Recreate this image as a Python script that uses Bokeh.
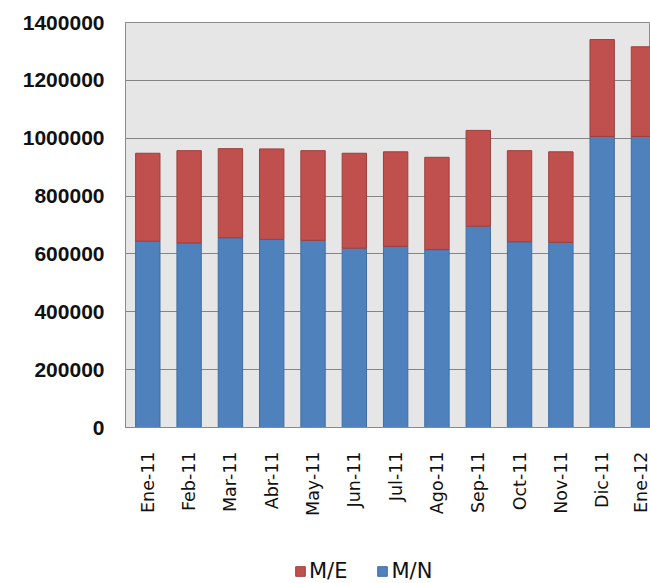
from math import pi
from bokeh.plotting import figure
from bokeh.layouts import column
from bokeh.models import (ColumnDataSource, Range1d, FixedTicker, NumeralTickFormatter,
                          Legend, LegendItem)
from bokeh.embed import file_html
from bokeh.resources import INLINE

# ---- data ----
months = ["Ene-11", "Feb-11", "Mar-11", "Abr-11", "May-11", "Jun-11", "Jul-11",
          "Ago-11", "Sep-11", "Oct-11", "Nov-11", "Dic-11", "Ene-12"]
mn_values = [644000, 638000, 656000, 650000, 647000, 620000, 626000,
             615000, 696000, 642000, 640000, 1006000, 1006000]
me_values = [304000, 319000, 308000, 313000, 310000, 328000, 327000,
             319000, 331000, 315000, 313000, 335000, 310000]
y_ticks = [0, 200000, 400000, 600000, 800000, 1000000, 1200000, 1400000]
series_labels = ["M/E", "M/N"]

positions = list(range(len(months)))
source = ColumnDataSource(dict(x=positions, mn=mn_values, me=me_values))

RED = "#C0504D"
BLUE = "#4F81BD"
RED_EDGE = "#9E3F3C"
BLUE_EDGE = "#3F6EA3"

p = figure(width=650, height=557, output_backend="svg", toolbar_location=None,
           x_range=Range1d(-0.54, 12.17), y_range=Range1d(0, 1400000),
           min_border_left=125, min_border_right=0, min_border_top=22,
           min_border_bottom=130)

p.background_fill_color = "#E6E6E6"
p.border_fill_color = "white"
p.outline_line_color = "#8A8A8A"
p.outline_line_width = 1

p.vbar_stack(["mn", "me"], x="x", width=0.59, source=source,
             color=[BLUE, RED], line_color=[BLUE_EDGE, RED_EDGE], line_width=1)

# y axis
p.yaxis.ticker = FixedTicker(ticks=y_ticks)
p.yaxis.formatter = NumeralTickFormatter(format="0")
p.yaxis.major_label_text_font = "Liberation Sans"
p.yaxis.major_label_text_font_style = "bold"
p.yaxis.major_label_text_font_size = "21px"
p.yaxis.major_label_text_color = "#111111"
p.yaxis.major_tick_out = 0
p.yaxis.major_tick_in = 0
p.yaxis.minor_tick_line_color = None
p.yaxis.major_label_standoff = 21
p.yaxis.axis_line_color = "#8A8A8A"

# x axis
p.xaxis.ticker = FixedTicker(ticks=positions)
p.xaxis.major_label_overrides = {i: m for i, m in enumerate(months)}
p.xaxis.major_label_orientation = pi / 2
p.xaxis.major_label_text_font = "DejaVu Sans"
p.xaxis.major_label_text_font_size = "17.5px"
p.xaxis.major_label_text_color = "#111111"
p.xaxis.major_tick_out = 0
p.xaxis.major_tick_in = 0
p.xaxis.minor_tick_line_color = None
p.xaxis.major_label_standoff = 24
p.xaxis.axis_line_color = "#8A8A8A"

# grid
p.xgrid.grid_line_color = None
p.ygrid.ticker = FixedTicker(ticks=y_ticks)
p.ygrid.grid_line_color = "#858585"
p.ygrid.grid_line_width = 1

# ---- legend strip below the chart (its frame is aligned with the chart's) ----
lg = figure(width=650, height=26, output_backend="svg", toolbar_location=None,
            x_axis_type=None, y_axis_type=None,
            x_range=Range1d(-0.54, 12.17), y_range=Range1d(0, 1400000),
            min_border_left=0, min_border_right=0, min_border_top=0,
            min_border_bottom=0)
lg.outline_line_color = None
lg.background_fill_color = None
lg.grid.visible = False
# hidden copies of the series: only their legend keys are drawn
k_me = lg.vbar(x="x", top="me", width=0.59, source=source,
               fill_color=RED, line_color=RED_EDGE, visible=False)
k_mn = lg.vbar(x="x", top="mn", width=0.59, source=source,
               fill_color=BLUE, line_color=BLUE_EDGE, visible=False)

legend = Legend(items=[LegendItem(label=series_labels[0], renderers=[k_me], index=0),
                       LegendItem(label=series_labels[1], renderers=[k_mn], index=0)],
                orientation="horizontal", location=(169, 0),
                glyph_width=12, glyph_height=12, label_standoff=3, spacing=29,
                padding=0, margin=0, border_line_color=None,
                background_fill_alpha=0, inactive_fill_alpha=0,
                label_text_font="DejaVu Sans", label_text_font_size="21px",
                label_text_color="#111111")
lg.add_layout(legend)

layout = column(p, lg, spacing=0)
open("out.html", "w").write(file_html(layout, INLINE))
